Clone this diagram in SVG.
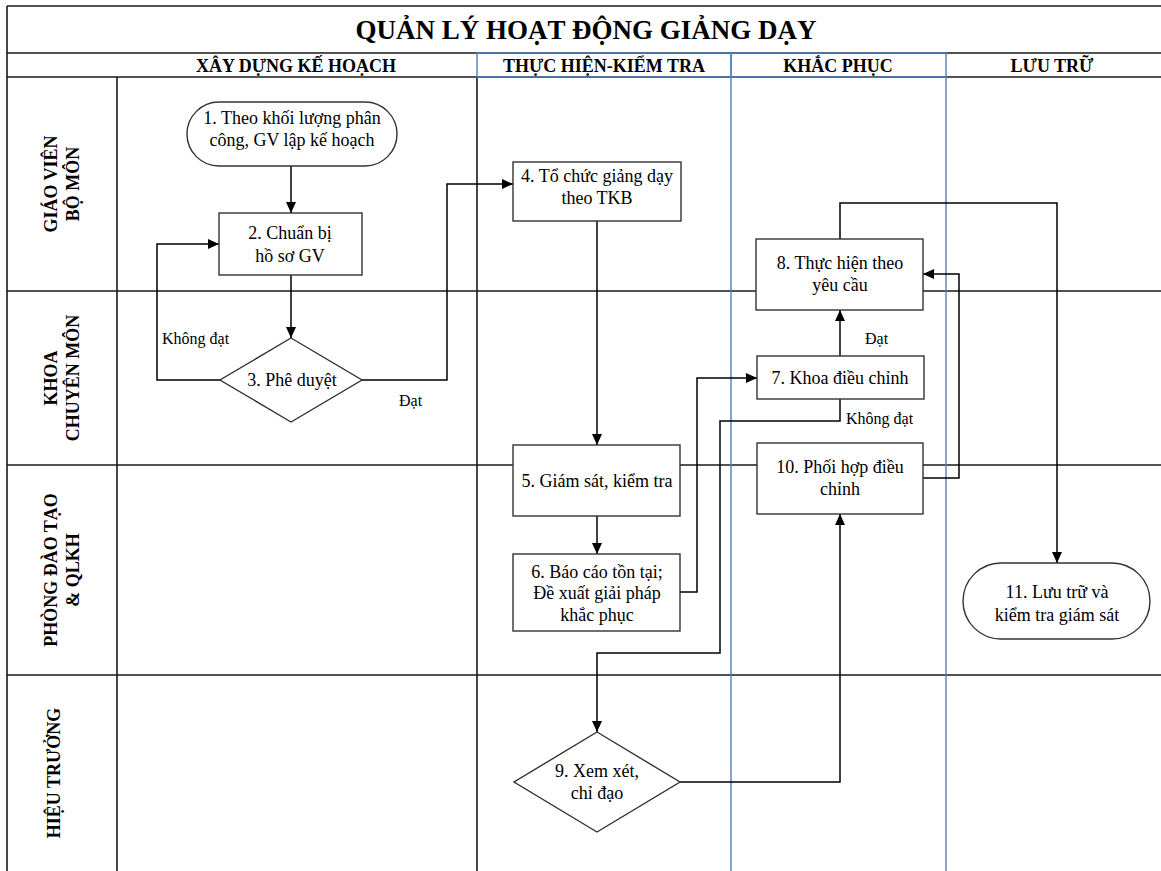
<svg xmlns="http://www.w3.org/2000/svg" width="1161" height="871" viewBox="0 0 1161 871">
<defs>
<marker id="arr" markerUnits="userSpaceOnUse" markerWidth="12" markerHeight="10" refX="11" refY="5" orient="auto">
<path d="M0,0 L11,5 L0,10 z" fill="#000"/>
</marker>
<style>
.grid{stroke:#1a1a1a;stroke-width:1.6;fill:none}
.blue{stroke:#4F81BD;stroke-width:1.4;fill:none}
.node{fill:#fff;stroke:#333;stroke-width:1.4}
.t{font-family:"Liberation Serif","Times New Roman",serif;font-size:18px;fill:#000;text-anchor:middle}
.lbl{font-family:"Liberation Serif","Times New Roman",serif;font-size:16px;fill:#000}
.hdr{font-family:"Liberation Serif","Times New Roman",serif;font-size:18px;font-weight:bold;fill:#000;text-anchor:middle}
.title{font-family:"Liberation Serif","Times New Roman",serif;font-size:27px;font-weight:bold;fill:#000;text-anchor:middle}
.lane{font-family:"Liberation Serif","Times New Roman",serif;font-size:18px;font-weight:bold;fill:#000;text-anchor:middle}
.con{stroke:#000;stroke-width:1.5;fill:none}
</style>
</defs>
<rect x="0" y="0" width="1161" height="871" fill="#fff"/>
<g id="grid">
<path class="grid" d="M7,6 H1161 M7,53 H1161 M7,77 H1161 M7,6 V871 M117,77 V871 M477,77 V871 M7,291 H1161 M7,465 H1161 M7,675 H1161"/>
<path class="blue" d="M731,77 V871 M946,77 V871"/>
<rect class="blue" x="477" y="53" width="254" height="24"/>
<rect class="blue" x="731" y="53" width="215" height="24"/>
</g>
<g id="header">
<text class="title" x="586" y="39">QUẢN LÝ HOẠT ĐỘNG GIẢNG DẠY</text>
<text class="hdr" x="296" y="72">XÂY DỰNG KẾ HOẠCH</text>
<text class="hdr" x="604" y="72">THỰC HIỆN-KIỂM TRA</text>
<text class="hdr" x="838" y="72">KHẮC PHỤC</text>
<text class="hdr" x="1052" y="72">LƯU TRỮ</text>
</g>
<g id="lanes">
<text class="lane" transform="translate(62,184) rotate(-90)"><tspan x="0" y="-5">GIÁO VIÊN</tspan><tspan x="0" y="17">BỘ MÔN</tspan></text>
<text class="lane" transform="translate(62,378) rotate(-90)"><tspan x="0" y="-5">KHOA</tspan><tspan x="0" y="17">CHUYÊN MÔN</tspan></text>
<text class="lane" transform="translate(62,570) rotate(-90)"><tspan x="0" y="-5">PHÒNG ĐÀO TẠO</tspan><tspan x="0" y="17">&amp; QLKH</tspan></text>
<text class="lane" transform="translate(62,773) rotate(-90)"><tspan x="0" y="-2">HIỆU TRƯỞNG</tspan></text>
</g>
<g id="connectors">
<path class="con" marker-end="url(#arr)" d="M291,166 V213"/>
<path class="con" marker-end="url(#arr)" d="M291,275 V338"/>
<path class="con" marker-end="url(#arr)" d="M220,380 H157 V244 H219"/>
<path class="con" marker-end="url(#arr)" d="M362,380 H447 V184 H513"/>
<path class="con" marker-end="url(#arr)" d="M597,221 V445"/>
<path class="con" marker-end="url(#arr)" d="M597,516 V554"/>
<path class="con" marker-end="url(#arr)" d="M680,592 H697 V378 H757"/>
<path class="con" marker-end="url(#arr)" d="M840,356 V310"/>
<path class="con" marker-end="url(#arr)" d="M840,399 V421 H720 V653 H597 V732"/>
<path class="con" marker-end="url(#arr)" d="M680,782 H840 V514"/>
<path class="con" marker-end="url(#arr)" d="M923,478 H959 V274 H923"/>
<path class="con" marker-end="url(#arr)" d="M840,239 V203 H1057 V563"/>
<text class="lbl" x="162" y="344">Không đạt</text>
<text class="lbl" x="399" y="406">Đạt</text>
<text class="lbl" x="865" y="344">Đạt</text>
<text class="lbl" x="846" y="424">Không đạt</text>
</g>
<g id="node-1">
<rect class="node" x="187" y="102" width="210" height="64" rx="32"/>
<text class="t" x="292" y="124">1. Theo khối lượng phân</text>
<text class="t" x="292" y="146">công, GV lập kế hoạch</text>
</g>
<g id="node-2">
<rect class="node" x="219" y="213" width="143" height="62"/>
<text class="t" x="290" y="239">2. Chuẩn bị</text>
<text class="t" x="290" y="262">hồ sơ GV</text>
</g>
<g id="node-3">
<path class="node" d="M291,338 L362,380 L291,422 L220,380 z"/>
<text class="t" x="292" y="386">3. Phê duyệt</text>
</g>
<g id="node-4">
<rect class="node" x="513" y="162" width="168" height="59"/>
<text class="t" x="597" y="182">4. Tổ chức giảng dạy</text>
<text class="t" x="597" y="204">theo TKB</text>
</g>
<g id="node-5">
<rect class="node" x="513" y="445" width="167" height="71"/>
<text class="t" x="597" y="487">5. Giám sát, kiểm tra</text>
</g>
<g id="node-6">
<rect class="node" x="513" y="554" width="167" height="77"/>
<text class="t" x="597" y="578">6. Báo cáo tồn tại;</text>
<text class="t" x="597" y="599">Đề xuất giải pháp</text>
<text class="t" x="597" y="621">khắc phục</text>
</g>
<g id="node-7">
<rect class="node" x="757" y="356" width="167" height="43"/>
<text class="t" x="840" y="384">7. Khoa điều chỉnh</text>
</g>
<g id="node-8">
<rect class="node" x="756" y="239" width="167" height="71"/>
<text class="t" x="840" y="269">8. Thực hiện theo</text>
<text class="t" x="840" y="291">yêu cầu</text>
</g>
<g id="node-9">
<path class="node" d="M597,732 L680,782 L597,832 L514,782 z"/>
<text class="t" x="597" y="777">9. Xem xét,</text>
<text class="t" x="597" y="799">chỉ đạo</text>
</g>
<g id="node-10">
<rect class="node" x="757" y="443" width="166" height="71"/>
<text class="t" x="840" y="473">10. Phối hợp điều</text>
<text class="t" x="840" y="495">chỉnh</text>
</g>
<g id="node-11">
<rect class="node" x="963" y="563" width="187" height="76" rx="38"/>
<text class="t" x="1057" y="598">11. Lưu trữ và</text>
<text class="t" x="1057" y="621">kiểm tra giám sát</text>
</g>
</svg>
